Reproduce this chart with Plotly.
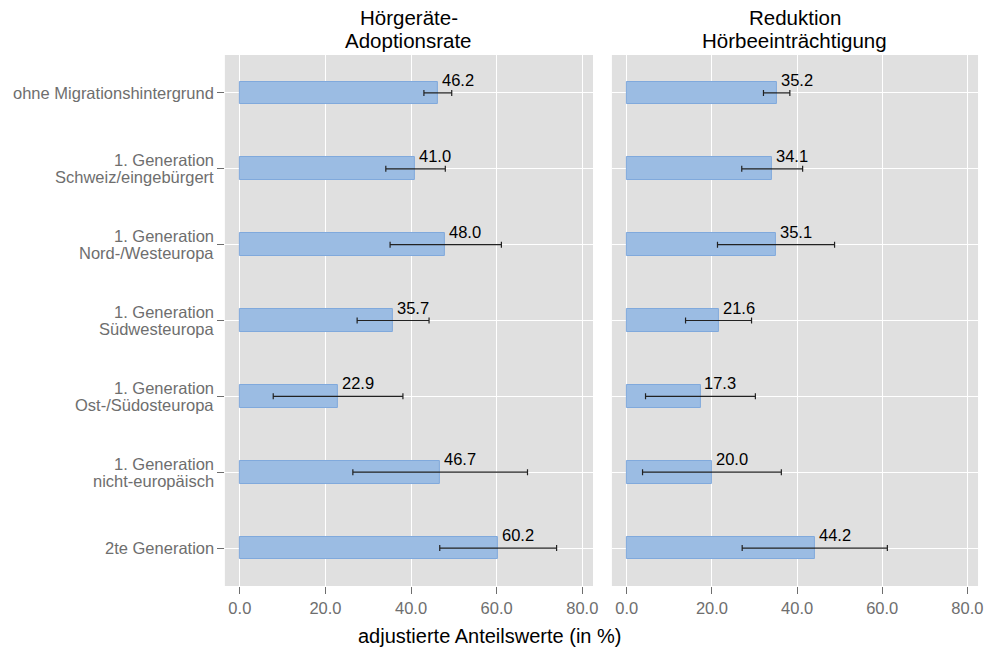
import plotly.graph_objects as go

# Gruppen (von oben nach unten); Zeilenumbrüche als Liste je Gruppe
category_lines = [
    ["ohne Migrationshintergrund"],
    ["1. Generation", "Schweiz/eingebürgert"],
    ["1. Generation", "Nord-/Westeuropa"],
    ["1. Generation", "Südwesteuropa"],
    ["1. Generation", "Ost-/Südosteuropa"],
    ["1. Generation", "nicht-europäisch"],
    ["2te Generation"],
]
categories = [" ".join(lines) for lines in category_lines]

# Hörgeräte-Adoptionsrate: Schätzwert und Konfidenzgrenzen
adoption = [46.2, 41.0, 48.0, 35.7, 22.9, 46.7, 60.2]
adoption_lo = [43.0, 34.1, 35.1, 27.4, 7.8, 26.4, 46.7]
adoption_hi = [49.5, 48.0, 61.1, 44.2, 38.1, 67.2, 74.0]

# Reduktion Hörbeeinträchtigung: Schätzwert und Konfidenzgrenzen
reduction = [35.2, 34.1, 35.1, 21.6, 17.3, 20.0, 44.2]
reduction_lo = [32.1, 27.0, 21.3, 13.8, 4.4, 3.7, 27.1]
reduction_hi = [38.3, 41.3, 48.8, 29.3, 30.2, 36.3, 61.2]

panel_titles = [["Hörgeräte-", "Adoptionsrate"], ["Reduktion", "Hörbeeinträchtigung"]]
x_ticks = [0, 20, 40, 60, 80]

FONT = "Liberation Sans, Arial, Helvetica, sans-serif"
BAR_FILL = "#9BBCE3"
BAR_LINE = "#80A9DC"
PANEL_BG = "#E0E0E0"
TICK_GREY = "#6E6E6E"

W, H = 991, 650
panels = [
    dict(x0=226, x1=596, vals=adoption, lo=adoption_lo, hi=adoption_hi, xa="x", ya="y"),
    dict(x0=615, x1=983, vals=reduction, lo=reduction_lo, hi=reduction_hi, xa="x2", ya="y2"),
]
y_top, y_bot = 55, 586

fig = go.Figure()
annotations = []

for i, p in enumerate(panels):
    err_plus = [h - v for h, v in zip(p["hi"], p["vals"])]
    err_minus = [v - l for v, l in zip(p["vals"], p["lo"])]
    fig.add_trace(go.Bar(
        x=p["vals"], y=categories, orientation="h", width=0.3,
        marker=dict(color=BAR_FILL, line=dict(color=BAR_LINE, width=1)),
        error_x=dict(type="data", symmetric=False, array=err_plus, arrayminus=err_minus,
                     color="#222222", thickness=1.2, width=3),
        xaxis=p["xa"], yaxis=p["ya"], showlegend=False, hoverinfo="skip",
    ))
    # Wertbeschriftung rechts oberhalb des Balkenendes
    for c, v in zip(categories, p["vals"]):
        annotations.append(dict(
            x=v, y=c, xref=p["xa"], yref=p["ya"], text=f"{v:.1f}",
            showarrow=False, xanchor="left", yanchor="middle",
            xshift=2, yshift=13, font=dict(family=FONT, size=16.5, color="#000000"),
        ))
    # Panel-Titel, zweizeilig mit enger Zeilenhöhe
    cx = (p["x0"] + p["x1"]) / 2 / W
    for k, line in enumerate(panel_titles[i]):
        annotations.append(dict(
            x=cx, y=1 - (18 + 22 * k) / H, xref="paper", yref="paper", text=line,
            showarrow=False, xanchor="center", yanchor="middle",
            font=dict(family=FONT, size=20.5, color="#000000"),
        ))

# Kategorienbeschriftung der y-Achse (rechtsbündig, enge Zeilenhöhe)
for c, lines in zip(categories, category_lines):
    n = len(lines)
    for k, line in enumerate(lines):
        annotations.append(dict(
            x=217 / W, y=c, xref="paper", yref="y", text=line,
            showarrow=False, xanchor="right", yanchor="middle",
            yshift=(n - 1) * 8.5 - 17 * k,
            font=dict(family=FONT, size=16.5, color=TICK_GREY),
        ))

annotations.append(dict(
    x=492 / W, y=1 - 636 / H, xref="paper", yref="paper",
    text="adjustierte Anteilswerte (in %)", showarrow=False,
    xanchor="center", yanchor="middle",
    font=dict(family=FONT, size=20, color="#000000"),
))

xaxis_common = dict(
    range=[-3.5, 82.5], tickvals=x_ticks, ticktext=[f"{t:.1f}" for t in x_ticks],
    showgrid=True, gridcolor="#FFFFFF", gridwidth=1.2, zeroline=False,
    ticks="outside", ticklen=7, tickwidth=1, tickcolor=TICK_GREY,
    tickfont=dict(family=FONT, size=16.5, color=TICK_GREY), showline=False,
    fixedrange=True,
)
yaxis_common = dict(
    categoryorder="array", categoryarray=categories, range=[6.5, -0.5],
    showgrid=True, gridcolor="#FFFFFF", gridwidth=1.2, zeroline=False,
    showline=False, fixedrange=True, showticklabels=False,
)

fig.update_layout(
    width=W, height=H,
    margin=dict(l=0, r=0, t=0, b=0),
    paper_bgcolor="#FFFFFF", plot_bgcolor=PANEL_BG,
    bargap=0,
    xaxis=dict(domain=[226 / W, 596 / W], anchor="y", **xaxis_common),
    xaxis2=dict(domain=[615 / W, 983 / W], anchor="y2", **xaxis_common),
    yaxis=dict(domain=[1 - y_bot / H, 1 - y_top / H], anchor="x",
               ticks="outside", ticklen=7, tickwidth=1, tickcolor=TICK_GREY,
               **yaxis_common),
    yaxis2=dict(domain=[1 - y_bot / H, 1 - y_top / H], anchor="x2",
                ticks="", **yaxis_common),
    annotations=annotations,
)

fig.write_html("out.html")
